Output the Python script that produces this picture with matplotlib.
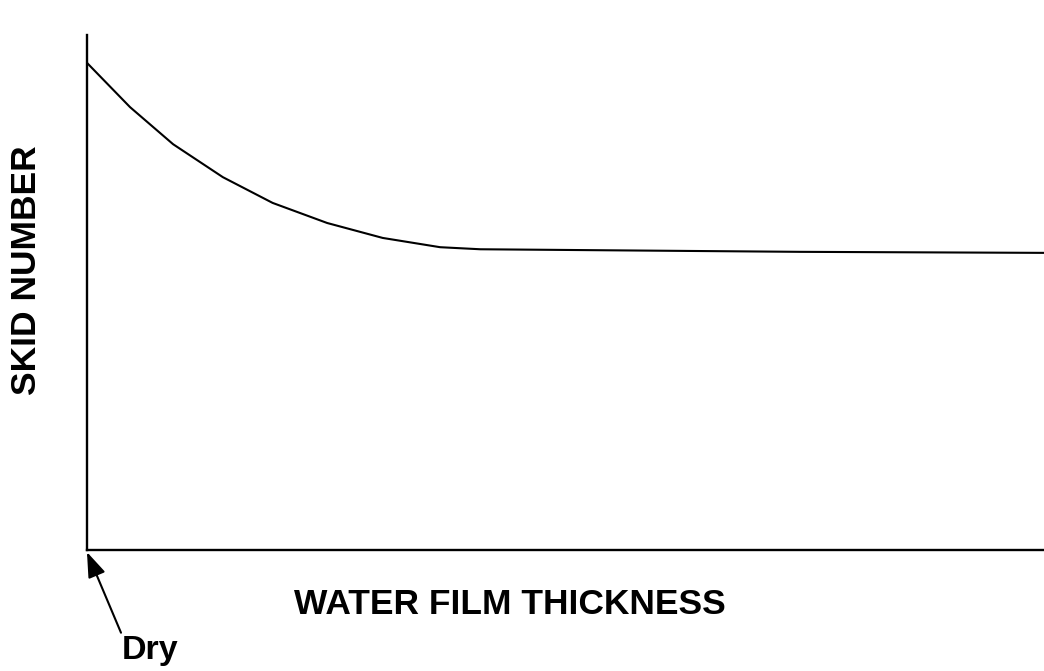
import matplotlib.pyplot as plt

plt.rcParams['font.family'] = ['Liberation Sans', 'DejaVu Sans']

# curve (arbitrary units, no scale on the original)
thickness = [0, 4.5, 9.0, 14.2, 19.4, 25.1, 30.9, 36.9, 41.1, 74.5, 100]
skid_number = [94.6, 86.0, 78.8, 72.4, 67.4, 63.5, 60.6, 58.8, 58.4, 57.9, 57.7]

fig = plt.figure(figsize=(10.44, 6.71), dpi=100)
ax = fig.add_axes([0.0833, 0.1803, 0.9167, 0.7675])

ax.plot(thickness, skid_number, color='black', lw=1.5)
ax.set_xlim(0, 100)
ax.set_ylim(0, 100)
ax.set_xticks([])
ax.set_yticks([])
for side in ['top', 'right']:
    ax.spines[side].set_visible(False)
for side in ['left', 'bottom']:
    ax.spines[side].set_linewidth(1.7)

fig.text(510 / 1044, 1 - 605 / 671, 'WATER FILM THICKNESS', ha='center', va='center',
         fontsize=25.5, fontweight='bold')
fig.text(27 / 1044, 1 - 270 / 671, 'SKID NUMBER', ha='center', va='center',
         rotation=90, fontsize=25.5, fontweight='bold')

ax.annotate('Dry', xy=(0, -0.4), xycoords='data',
            xytext=(150 / 1044, 1 - 651 / 671), textcoords='figure fraction',
            ha='center', va='center', fontsize=24.5, fontweight='bold',
            arrowprops=dict(arrowstyle='-|>,head_length=0.7,head_width=0.25',
                            color='black', lw=1.5, mutation_scale=22,
                            shrinkA=0, shrinkB=0, relpos=(0.02, 0.95)),
            annotation_clip=False)

fig.savefig('out.png', dpi=100)
